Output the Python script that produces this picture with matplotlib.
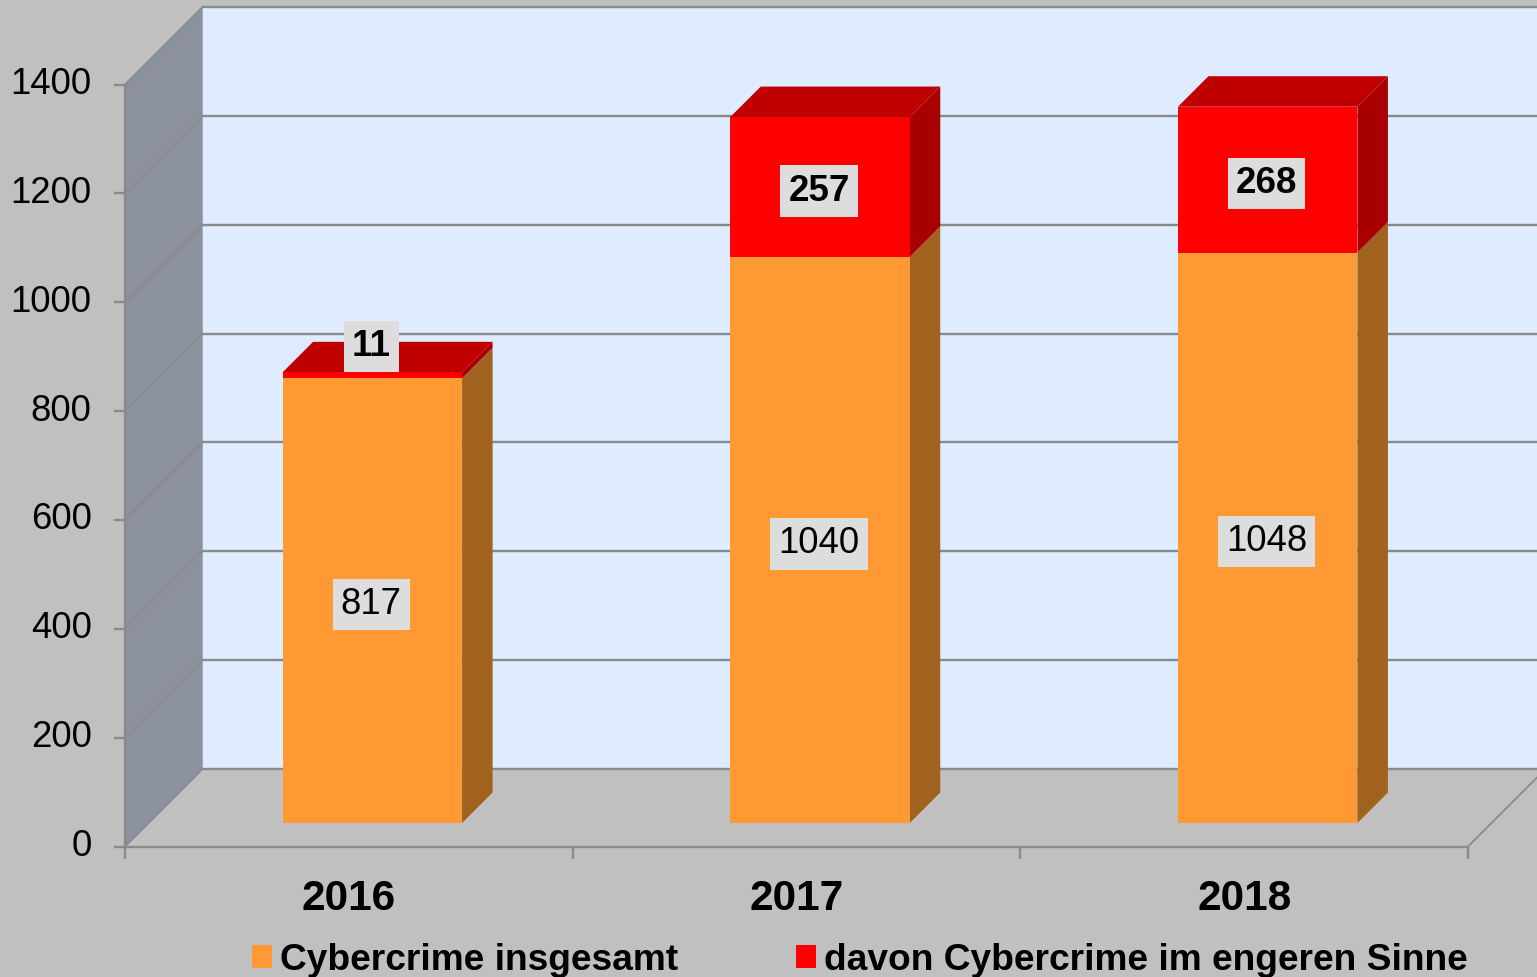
import matplotlib
matplotlib.use('Agg')
import matplotlib.pyplot as plt
from matplotlib.patches import Patch, Polygon

plt.rcParams['font.family'] = ['Liberation Sans', 'DejaVu Sans']

years = ['2016', '2017', '2018']
total = [817, 1040, 1048]
narrow = [11, 257, 268]
yticks = [0, 200, 400, 600, 800, 1000, 1200, 1400]
names = ['Cybercrime insgesamt', 'davon Cybercrime im engeren Sinne']

W, H = 1537, 977
L, R, B, T = 125, 1468, 846.5, 84.5  # front plane in pixels
xu = (R - L) / 3
yu = (B - T) / 1400
wall = 77.5
d0, d1 = 23.5, 54
bar_w = 179.5 / xu

grid = '#8a8a8a'
bg = '#c0c0c0'


def pt(x, y, d):
    # shift a front plane point back into the depth of the box
    return (x + d / xu, y + d / yu)


def face(ax, pts, color, z):
    ax.add_patch(Polygon(pts, closed=True, fc=color, ec='none', zorder=z, clip_on=False))


fig = plt.figure(figsize=(W / 100, H / 100), dpi=100, facecolor=bg)
ax = fig.add_axes([L / W, 1 - B / H, (R - L) / W, (B - T) / H])
ax.patch.set_visible(False)
ax.set_xlim(0, 3)
ax.set_ylim(0, 1400)

# box walls
face(ax, [pt(0, 0, 0), pt(0, 1400, 0), pt(0, 1400, wall), pt(0, 0, wall)], '#8b929e', 1)
face(ax, [pt(0, 0, wall), pt(0, 1400, wall), pt(3, 1400, wall), pt(3, 0, wall)], '#dfebff', 1)

for v in yticks:
    a, b, c = pt(0, v, 0), pt(0, v, wall), pt(3, v, wall)
    ax.plot([a[0], b[0]], [a[1], b[1]], color=grid, lw=1.3, zorder=2, clip_on=False)
    ax.plot([b[0], c[0]], [b[1], c[1]], color=grid, lw=1.7, zorder=2, clip_on=False)
a, b = pt(3, 0, 0), pt(3, 0, wall)
ax.plot([a[0], b[0]], [a[1], b[1]], color=grid, lw=1.3, zorder=2, clip_on=False)

# bars
for i in range(3):
    cx = i + 0.5
    x0, x1 = cx - bar_w / 2, cx + bar_w / 2
    t1 = total[i]
    t2 = total[i] + narrow[i]
    ax.bar(pt(cx, 0, d0)[0], t1, bar_w, bottom=pt(cx, 0, d0)[1], color='#ff9933', zorder=4, clip_on=False)
    ax.bar(pt(cx, 0, d0)[0], narrow[i], bar_w, bottom=pt(cx, t1, d0)[1], color='#ff0000', zorder=4, clip_on=False)
    face(ax, [pt(x1, 0, d0), pt(x1, t1, d0), pt(x1, t1, d1), pt(x1, 0, d1)], '#a1611f', 3)
    face(ax, [pt(x1, t1, d0), pt(x1, t2, d0), pt(x1, t2, d1), pt(x1, t1, d1)], '#a80000', 3)
    face(ax, [pt(x0, t2, d0), pt(x1, t2, d0), pt(x1, t2, d1), pt(x0, t2, d1)], '#c00000', 3)

    box = dict(boxstyle='square,pad=0.22', fc='#dddddd', ec='none')
    lx, ly = pt(cx, t1 / 2, d0)
    lx -= 1 / xu
    ax.text(lx, ly, str(total[i]), ha='center', va='center_baseline', fontsize=26.3, color='black',
            bbox=box, zorder=6)
    ly = pt(cx, t1 + narrow[i] / 2, d0)[1]
    if narrow[i] < 50:
        ly += 33 / yu  # small label was moved above the bar
    ax.text(lx, ly, str(narrow[i]), ha='center', va='center_baseline', fontsize=26.5, fontweight='bold',
            color='black', bbox=box, zorder=6)

# axes
for s in ['top', 'right']:
    ax.spines[s].set_visible(False)
for s in ['left', 'bottom']:
    ax.spines[s].set_color(grid)
    ax.spines[s].set_linewidth(1.7)
    ax.spines[s].set_zorder(3)
ax.set_yticks(yticks)
ax.set_xticks([0, 1, 2, 3])
ax.set_xticklabels([])
ax.set_xticks([0.5, 1.5, 2.5], minor=True)
ax.set_xticklabels(years, minor=True, fontsize=30.5, fontweight='bold')
ax.tick_params(axis='y', length=8, width=1.7, color=grid, labelsize=26.3, pad=16)
ax.tick_params(axis='x', which='major', length=8.5, width=1.7, color=grid)
ax.tick_params(axis='x', which='minor', length=0, pad=23.5)
for lab in ax.get_yticklabels():
    lab.set_verticalalignment('center')

handles = [Patch(fc='#ff9933', ec='none'), Patch(fc='#ff0000', ec='none')]
fig.legend(handles, names, ncol=2, loc='center left', bbox_to_anchor=(240.5 / W, 1 - 960 / H),
           frameon=False, prop=dict(size=26.75, weight='bold'), handlelength=0.55, handleheight=0.55,
           handletextpad=0.215, columnspacing=3.17, borderpad=0, borderaxespad=0.3)

fig.savefig('out.png', dpi=100, facecolor=bg)
